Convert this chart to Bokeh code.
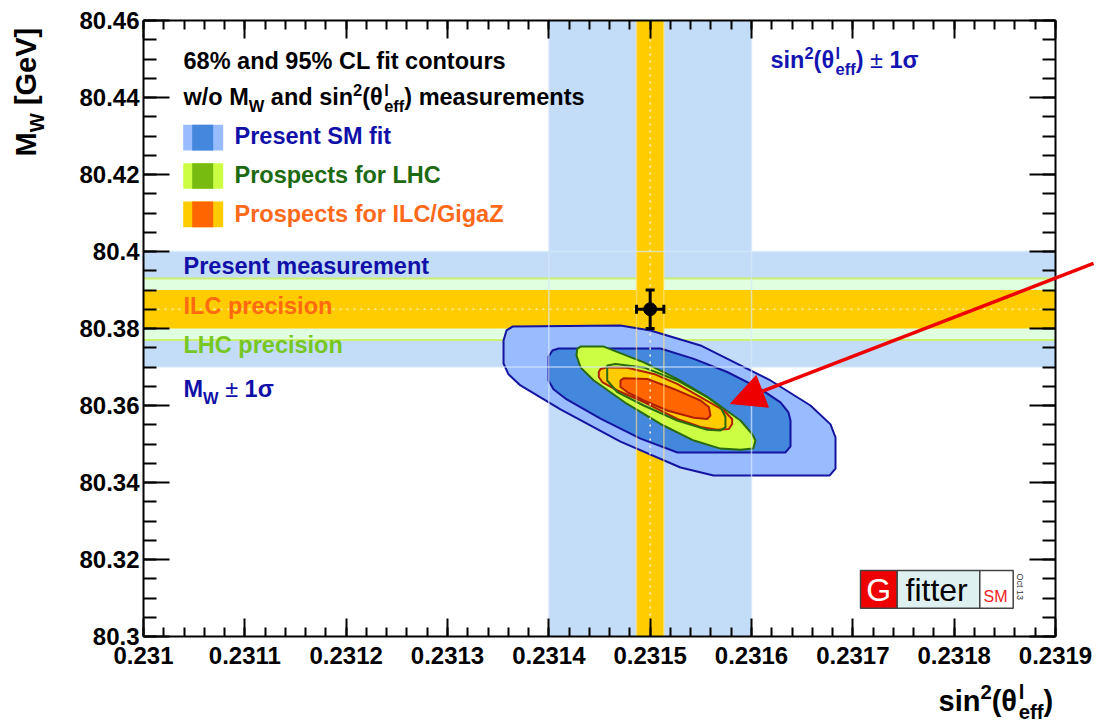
import math
import numpy as np
from bokeh.plotting import figure
from bokeh.models import (FixedTicker, CustomJSTickFormatter, LinearAxis, Label,
                          Arrow, NormalHead, Whisker, TeeHead, ColumnDataSource, Range1d)
from bokeh.embed import file_html
from bokeh.resources import INLINE

# ---------------- data ----------------
x_ticks = [0.2310, 0.2311, 0.2312, 0.2313, 0.2314, 0.2315, 0.2316, 0.2317, 0.2318, 0.2319]
x_tick_labels = ["0.231", "0.2311", "0.2312", "0.2313", "0.2314", "0.2315",
                 "0.2316", "0.2317", "0.2318", "0.2319"]
y_ticks = [80.30, 80.32, 80.34, 80.36, 80.38, 80.40, 80.42, 80.44, 80.46]
y_tick_labels = ["80.3", "80.32", "80.34", "80.36", "80.38", "80.4", "80.42", "80.44", "80.46"]

# measurement and precision bands
mw_meas = 80.385
mw_err_present = 0.015
mw_err_lhc = 0.008
mw_err_ilc = 0.005
s2w_meas = 0.23150
s2w_err_present = 0.00010
s2w_err_ilc = 0.0000135

# fit contours (polygon vertices)
sm95_x = [0.2313553, 0.2313582, 0.2313641, 0.2314707, 0.2315003, 0.2315497, 0.2316188, 0.2316582,
          0.2316780, 0.2316829, 0.2316829, 0.2316770, 0.2315625, 0.2315299, 0.2314707, 0.2314115,
          0.2313720, 0.2313602, 0.2313553]
sm95_y = [80.3769, 80.3795, 80.3805, 80.3808, 80.3795, 80.3756, 80.3665, 80.3600,
          80.3551, 80.3517, 80.3436, 80.3418, 80.3418, 80.3439, 80.3506, 80.3590,
          80.3652, 80.3681, 80.3709]
sm68_x = [0.2313997, 0.2314036, 0.2314095, 0.2315102, 0.2315431, 0.2315760, 0.2316089, 0.2316286,
          0.2316365, 0.2316385, 0.2316385, 0.2316336, 0.2315270, 0.2314905, 0.2314510, 0.2314164,
          0.2314046, 0.2313997]
sm68_y = [80.3727, 80.3743, 80.3748, 80.3748, 80.3721, 80.3687, 80.3643, 80.3608,
          80.3582, 80.3561, 80.3494, 80.3478, 80.3478, 80.3514, 80.3566, 80.3618,
          80.3642, 80.3665]
lhc95_x = [0.2314273, 0.2314280, 0.2314313, 0.2314542, 0.2314937, 0.2315267, 0.2315595, 0.2315891,
           0.2316007, 0.2316039, 0.2316017, 0.2315891, 0.2315694, 0.2315431, 0.2315102, 0.2314773,
           0.2314444, 0.2314313]
lhc95_y = [80.3730, 80.3747, 80.3753, 80.3753, 80.3712, 80.3669, 80.3617, 80.3561,
           80.3526, 80.3509, 80.3488, 80.3485, 80.3488, 80.3509, 80.3552, 80.3604,
           80.3665, 80.3699]
lhc68_x = [0.2314576, 0.2314576, 0.2314658, 0.2314937, 0.2315267, 0.2315563, 0.2315694, 0.2315743,
           0.2315743, 0.2315694, 0.2315563, 0.2315267, 0.2314937, 0.2314675]
lhc68_y = [80.3665, 80.3704, 80.3708, 80.3699, 80.3665, 80.3622, 80.3596, 80.3570,
           80.3544, 80.3535, 80.3537, 80.3561, 80.3600, 80.3635]
ilc95_x = [0.2314493, 0.2314493, 0.2314510, 0.2314576, 0.2314773, 0.2315036, 0.2315267, 0.2315497,
           0.2315727, 0.2315809, 0.2315809, 0.2315776, 0.2315662, 0.2315497, 0.2315267, 0.2314937,
           0.2314675, 0.2314527]
ilc95_y = [80.3674, 80.3687, 80.3695, 80.3699, 80.3698, 80.3682, 80.3656, 80.3622,
           80.3587, 80.3565, 80.3552, 80.3539, 80.3537, 80.3544, 80.3565, 80.3609,
           80.3639, 80.3661]
ilc68_x = [0.2314707, 0.2314707, 0.2314740, 0.2314971, 0.2315233, 0.2315497, 0.2315579, 0.2315595,
           0.2315563, 0.2315431, 0.2315168, 0.2314937, 0.2314773]
ilc68_y = [80.3648, 80.3665, 80.3671, 80.3669, 80.3643, 80.3613, 80.3596, 80.3574,
           80.3565, 80.3568, 80.3587, 80.3613, 80.3635]

# annotation arrow (start -> tip)
arrow_start = (0.2319375, 80.3969)
arrow_end = (0.2315793, 80.3605)

# ---------------- layout helpers ----------------
X0, X1 = 0.2310, 0.2319
Y0, Y1 = 80.30, 80.46
FL, FR, FT, FB = 143, 1055, 20, 636   # pixel box of the axes frame
W, H = 1097, 722
KX = (X1 - X0) / (FR - FL)
KY = (Y1 - Y0) / (FB - FT)
BASE_FIX = 0.37  # label anchor correction (fraction of font size)


def dx(px):
    return X0 + (px - FL) * KX


def dy(py):
    return Y1 - (py - FT) * KY


FONT = "Liberation Sans"
CW = {' ': 278, '%': 889, '(': 333, ')': 333, '.': 278, '/': 278, 'A': 722, 'C': 722,
      'G': 778, 'H': 722, 'I': 278, 'L': 611, 'M': 833, 'P': 667, 'S': 667, 'V': 667,
      'W': 944, 'Z': 611, '[': 333, ']': 333, 'a': 556, 'c': 556, 'd': 611, 'e': 556,
      'f': 333, 'g': 611, 'i': 278, 'l': 278, 'm': 889, 'n': 611, 'o': 611, 'p': 611,
      'r': 389, 's': 556, 't': 333, 'u': 611, 'w': 778, 'z': 500, '±': 549, 'σ': 618,
      'θ': 600}


def tw(t, size):
    return sum(CW.get(c, 556) for c in t) / 1000.0 * size


# The plotting area covers the whole canvas so that texts and the arrow can sit
# outside the axes box; the box itself is made of four axes at fixed locations.
p = figure(width=W, height=H,
           x_range=Range1d(X0 - FL * KX, X1 + (W - FR) * KX),
           y_range=Range1d(Y0 - (H - FB) * KY, Y1 + FT * KY),
           x_axis_location=None, y_axis_location=None,
           output_backend="svg", toolbar_location=None, min_border=0)
p.grid.visible = False
p.outline_line_color = None
p.background_fill_color = "white"
p.border_fill_color = "white"


def label(px, py, text, size, color, style="bold", angle=0.0, align="left"):
    if angle == 0:
        py -= BASE_FIX * size
    elif angle > 0:
        px -= BASE_FIX * size
    else:
        px += BASE_FIX * size
    p.add_layout(Label(x=dx(px), y=dy(py), text=text, angle=angle, text_font=FONT,
                       text_font_style=style, text_font_size=f"{size}px", text_color=color,
                       text_baseline="alphabetic", text_align=align, level="overlay"))


def rich(px, py, parts, size, color, angle=0.0):
    cur = 0.0
    small = 0.7 * size
    for text, kind in parts:
        style = "bold"
        if kind in ("n", "r"):
            segs = [(text, size, 0.0)]
            if kind == "r":
                style = "normal"
        elif kind == "sub":
            segs = [(text, small, -0.28 * size)]
        elif kind == "sup":
            segs = [(text, small, 0.42 * size)]
        else:  # supsub
            sup, sub = text
            segs = [(sup, small, 0.42 * size), (sub, small, -0.28 * size)]
        adv = 0.0
        for t, fs, sh in segs:
            lead = len(t) - len(t.lstrip(" "))
            trail = len(t) - len(t.rstrip(" "))
            core = t.strip(" ")
            off = tw(" " * lead, fs)
            if angle == 0:
                label(px + cur + off, py - sh, core, fs, color, style=style)
            else:
                label(px - sh, py - cur - off, core, fs, color, style=style, angle=angle)
            adv = max(adv, off + tw(core, fs) + tw(" " * trail, fs))
        cur += adv


def hline(v, **kw):
    p.segment(x0=[X0], x1=[X1], y0=[v], y1=[v], **kw)


def vline(v, **kw):
    p.segment(x0=[v], x1=[v], y0=[Y0], y1=[Y1], **kw)


# ---------------- bands ----------------
LB = "#c3ddf9"
p.vbar(x=[s2w_meas], width=[2 * s2w_err_present], bottom=Y0, top=Y1, fill_color=LB, line_color=None)
p.hbar(y=[mw_meas], height=[2 * mw_err_present], left=X0, right=X1, fill_color=LB, line_color=None)
p.hbar(y=[mw_meas], height=[2 * mw_err_lhc], left=X0, right=X1, fill_color="#e0ffe0", line_color=None)
for v in (mw_meas - mw_err_lhc, mw_meas + mw_err_lhc):
    hline(v, line_color="#ccf070", line_width=2)
p.hbar(y=[mw_meas], height=[2 * mw_err_ilc], left=X0, right=X1, fill_color="#ffcc00", line_color=None)
p.vbar(x=[s2w_meas], width=[2 * s2w_err_ilc], bottom=Y0, top=Y1, fill_color="#ffcc00", line_color=None)

# ---------------- contours ----------------
DB = "#1414a0"
DG = "#2a6a10"
DR = "#b02000"
p.patch(sm95_x, sm95_y, fill_color="#99bbff", line_color=DB, line_width=2)
p.patch(sm68_x, sm68_y, fill_color="#4488dd", line_color=DB, line_width=2)
p.patch(lhc95_x, lhc95_y, fill_color="#ccff44", line_color=DG, line_width=2)
p.patch(ilc95_x, ilc95_y, fill_color="#ffcc00", line_color=DR, line_width=2)
p.patch(lhc68_x, lhc68_y, fill_color=None, line_color=DG, line_width=2)
p.patch(ilc68_x, ilc68_y, fill_color="#ff6600", line_color=DR, line_width=2)

# faint band edges drawn over contours
for v in (s2w_meas - s2w_err_present, s2w_meas + s2w_err_present):
    vline(v, line_color="#d6e8fb", line_width=1.5, line_alpha=0.7)
for v in (s2w_meas - s2w_err_ilc, s2w_meas + s2w_err_ilc):
    vline(v, line_color="#ffe48a", line_width=1.5, line_alpha=0.6)
for v in (mw_meas - mw_err_present, mw_meas + mw_err_present):
    hline(v, line_color="#d6e8fb", line_width=1.5, line_alpha=0.7)
hline(mw_meas, line_color="#fff0b0", line_width=1.5, line_dash="2 5")
vline(s2w_meas, line_color="#fff4d0", line_width=1.5, line_dash="2 5")

# ---------------- measurement point ----------------
src = ColumnDataSource(dict(x=[s2w_meas], y=[mw_meas],
                            yl=[mw_meas - mw_err_ilc], yu=[mw_meas + mw_err_ilc],
                            xl=[s2w_meas - s2w_err_ilc], xu=[s2w_meas + s2w_err_ilc]))
for base, lo, hi, dim in (("x", "yl", "yu", "height"), ("y", "xl", "xu", "width")):
    p.add_layout(Whisker(source=src, base=base, lower=lo, upper=hi, dimension=dim,
                         line_width=3, line_color="black", level="annotation",
                         lower_head=TeeHead(size=9, line_width=3, line_color="black"),
                         upper_head=TeeHead(size=9, line_width=3, line_color="black")))
p.scatter(x="x", y="y", source=src, size=13, color="black")

# ---------------- axes (frame box) ----------------
x_minor = np.round(np.arange(X0, X1 + 1e-9, 0.00002), 6).tolist()
y_minor = np.round(np.arange(Y0, Y1 + 1e-9, 0.005), 4).tolist()

fmt_code = """
let best = 0, bd = Infinity;
for (let i = 0; i < tv.length; i++) { const d = Math.abs(tv[i] - tick); if (d < bd) { bd = d; best = i; } }
return tl[best];
"""


def make_axis(where, loc, bounds, ticks, minor, major_len, minor_len, labels=None, standoff=6):
    ax = LinearAxis(fixed_location=loc, bounds=bounds)
    ax.ticker = FixedTicker(ticks=ticks, minor_ticks=minor)
    ax.major_tick_in = major_len
    ax.major_tick_out = 0
    ax.minor_tick_in = minor_len
    ax.minor_tick_out = 0
    ax.major_tick_line_width = 2
    ax.minor_tick_line_width = 2
    ax.major_tick_line_color = "black"
    ax.minor_tick_line_color = "black"
    ax.axis_line_color = "black"
    ax.axis_line_width = 2
    if labels is None:
        ax.formatter = CustomJSTickFormatter(code="return '';")
        ax.major_label_text_font_size = "0px"
        ax.major_label_standoff = 0
    else:
        ax.formatter = CustomJSTickFormatter(args=dict(tv=ticks, tl=labels), code=fmt_code)
        ax.major_label_text_font = FONT
        ax.major_label_text_font_style = "bold"
        ax.major_label_text_font_size = "24px"
        ax.major_label_text_color = "black"
        ax.major_label_standoff = standoff
    p.add_layout(ax, where)


make_axis("below", Y0, (X0, X1), x_ticks, x_minor, 18, 9, x_tick_labels, standoff=10)
make_axis("left", X0, (Y0, Y1), y_ticks, y_minor, 26, 13, y_tick_labels, standoff=4)
make_axis("above", Y1, (X0, X1), x_ticks, x_minor, 18, 9)
make_axis("right", X1, (Y0, Y1), y_ticks, y_minor, 26, 13)

# ---------------- texts ----------------
S = 23.5
BLUE = "#1010a8"
label(183, 69, "68% and 95% CL fit contours", S, "black")
rich(183, 105, [("w/o M", "n"), ("W", "sub"), (" and sin", "n"), ("2", "sup"), ("(θ", "n"),
                (("l", "eff"), "supsub"), (") measurements", "n")], S, "black")

swatches = [(124.3, 150.0, "#99bbff", "#4488dd", "Present SM fit", BLUE, 144.3),
            (162.7, 188.3, "#ccff44", "#77bb11", "Prospects for LHC", "#1d6a12", 182.7),
            (201.0, 226.7, "#ffcc00", "#ff6600", "Prospects for ILC/GigaZ", "#ff6a1a", 221.7)]
for t0, t1, c95, c68, txt, tc, base in swatches:
    p.quad(left=[dx(182.7)], right=[dx(222.7)], top=[dy(t0)], bottom=[dy(t1)], fill_color=c95, line_color=None)
    p.quad(left=[dx(191.7)], right=[dx(212.7)], top=[dy(t0)], bottom=[dy(t1)], fill_color=c68, line_color=None)
    label(234, base, txt, S, tc)

label(183, 274.3, "Present measurement", S, BLUE)
label(183, 314, "ILC precision", S, "#ff6a10")
label(183, 352.7, "LHC precision", S, "#77c622")
rich(183, 396.7, [("M", "n"), ("W", "sub"), (" ±", "r"), (" 1σ", "n")], S, BLUE)
rich(770, 68.3, [("sin", "n"), ("2", "sup"), ("(θ", "n"), (("l", "eff"), "supsub"), (")", "n"),
                 (" ±", "r"), (" 1σ", "n")], S, "#1414b0")

# axis titles
rich(938, 711, [("sin", "n"), ("2", "sup"), ("(θ", "n"), (("l", "eff"), "supsub"), (")", "n")], 29, "black")
rich(36, 156, [("M", "n"), ("W", "sub"), (" [GeV]", "n")], 29, "black", angle=math.pi / 2)

# ---------------- Gfitter logo ----------------
p.quad(left=[dx(860)], right=[dx(896.7)], top=[dy(570)], bottom=[dy(607.7)], fill_color="#ee0000", line_color="#444444", line_width=1.5)
p.quad(left=[dx(896.7)], right=[dx(979.3)], top=[dy(570)], bottom=[dy(607.7)], fill_color="#dff0f0", line_color="#444444", line_width=1.5)
p.quad(left=[dx(979.3)], right=[dx(1012.7)], top=[dy(570)], bottom=[dy(607.7)], fill_color="white", line_color="#444444", line_width=1.5)
label(878.3, 601.5, "G", 32, "white", style="normal", align="center")
label(905, 601.5, "fitter", 32, "black", style="normal")
label(983, 601.5, "SM", 16, "#ee2222", style="normal")
label(1016, 573, "Oct 13", 9, "#333333", style="normal", angle=-math.pi / 2)

# ---------------- arrow ----------------
p.add_layout(Arrow(end=NormalHead(size=34, fill_color="#ee0000", line_color="#ee0000"),
                   x_start=arrow_start[0], y_start=arrow_start[1],
                   x_end=arrow_end[0], y_end=arrow_end[1],
                   line_color="#ee0000", line_width=3.5, level="overlay"))

open("out.html", "w").write(file_html(p, INLINE))
